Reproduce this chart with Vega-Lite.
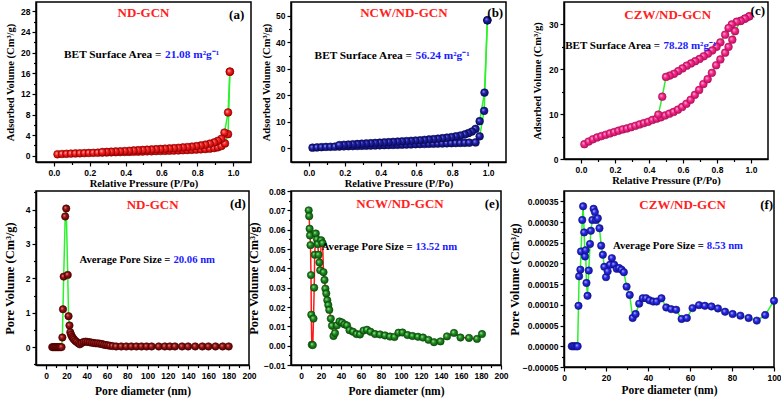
{
"$schema": "https://vega.github.io/schema/vega-lite/v6.json",
"padding": {"left": 2, "top": 1, "right": 0, "bottom": 0},
"background": "white",
"config": {
  "view": {"stroke": "black", "strokeWidth": 1.5},
  "axis": {"labelFont": "Liberation Sans", "labelFontWeight": "bold", "labelFontSize": 8.5, "labelColor": "black",
           "titleFont": "Liberation Serif", "titleFontWeight": "bold", "titleColor": "black",
           "domainColor": "black", "domainWidth": 1.5, "tickColor": "black", "tickWidth": 1.2, "tickSize": 4,
           "grid": false, "labelPadding": 2, "labelOverlap": false, "labelBound": false, "labelFlush": false},
  "text": {"font": "Liberation Serif", "fontWeight": "bold"}
},
"datasets": {
  "a": [
    {"p":0.02,"v":0.30,"b":"ads"},{"p":0.045,"v":0.35,"b":"ads"},{"p":0.07,"v":0.39,"b":"ads"},{"p":0.095,"v":0.43,"b":"ads"},{"p":0.12,"v":0.46,"b":"ads"},{"p":0.145,"v":0.49,"b":"ads"},{"p":0.17,"v":0.52,"b":"ads"},{"p":0.195,"v":0.55,"b":"ads"},{"p":0.22,"v":0.58,"b":"ads"},{"p":0.245,"v":0.60,"b":"ads"},{"p":0.27,"v":0.62,"b":"ads"},{"p":0.295,"v":0.65,"b":"ads"},{"p":0.32,"v":0.67,"b":"ads"},{"p":0.345,"v":0.69,"b":"ads"},{"p":0.37,"v":0.72,"b":"ads"},{"p":0.395,"v":0.74,"b":"ads"},{"p":0.42,"v":0.76,"b":"ads"},{"p":0.445,"v":0.79,"b":"ads"},{"p":0.47,"v":0.81,"b":"ads"},{"p":0.495,"v":0.83,"b":"ads"},{"p":0.52,"v":0.86,"b":"ads"},{"p":0.545,"v":0.88,"b":"ads"},{"p":0.57,"v":0.91,"b":"ads"},{"p":0.595,"v":0.94,"b":"ads"},{"p":0.62,"v":0.96,"b":"ads"},{"p":0.645,"v":0.99,"b":"ads"},{"p":0.67,"v":1.02,"b":"ads"},{"p":0.695,"v":1.05,"b":"ads"},{"p":0.72,"v":1.08,"b":"ads"},{"p":0.745,"v":1.12,"b":"ads"},{"p":0.77,"v":1.16,"b":"ads"},{"p":0.795,"v":1.2,"b":"ads"},{"p":0.82,"v":1.25,"b":"ads"},{"p":0.845,"v":1.31,"b":"ads"},{"p":0.87,"v":1.39,"b":"ads"},{"p":0.895,"v":1.5,"b":"ads"},{"p":0.915,"v":1.65,"b":"ads"},{"p":0.935,"v":1.9,"b":"ads"},{"p":0.955,"v":2.4,"b":"ads"},{"p":0.972,"v":4.2,"b":"ads"},{"p":0.982,"v":16.3,"b":"ads"},
    {"p":0.982,"v":16.3,"b":"des"},{"p":0.972,"v":8.4,"b":"des"},{"p":0.952,"v":4.5,"b":"des"},{"p":0.935,"v":3.3,"b":"des"},{"p":0.915,"v":2.9,"b":"des"},{"p":0.895,"v":2.6,"b":"des"},{"p":0.87,"v":2.35,"b":"des"},{"p":0.845,"v":2.15,"b":"des"},{"p":0.82,"v":2.0,"b":"des"},{"p":0.795,"v":1.88,"b":"des"},{"p":0.77,"v":1.78,"b":"des"},{"p":0.745,"v":1.7,"b":"des"},{"p":0.72,"v":1.62,"b":"des"},{"p":0.695,"v":1.55,"b":"des"},{"p":0.67,"v":1.49,"b":"des"},{"p":0.645,"v":1.43,"b":"des"},{"p":0.62,"v":1.38,"b":"des"},{"p":0.595,"v":1.33,"b":"des"},{"p":0.57,"v":1.28,"b":"des"},{"p":0.545,"v":1.23,"b":"des"},{"p":0.52,"v":1.18,"b":"des"},{"p":0.495,"v":1.13,"b":"des"},{"p":0.47,"v":1.08,"b":"des"},{"p":0.445,"v":1.03,"b":"des"},{"p":0.42,"v":0.98,"b":"des"},{"p":0.395,"v":0.93,"b":"des"},{"p":0.37,"v":0.88,"b":"des"},{"p":0.345,"v":0.84,"b":"des"},{"p":0.32,"v":0.8,"b":"des"},{"p":0.295,"v":0.76,"b":"des"},{"p":0.27,"v":0.73,"b":"des"}
  ],
  "b": [
    {"p":0.02,"v":0.2,"b":"ads"},{"p":0.045,"v":0.3,"b":"ads"},{"p":0.07,"v":0.4,"b":"ads"},{"p":0.095,"v":0.5,"b":"ads"},{"p":0.12,"v":0.55,"b":"ads"},{"p":0.145,"v":0.6,"b":"ads"},{"p":0.17,"v":0.65,"b":"ads"},{"p":0.195,"v":0.7,"b":"ads"},{"p":0.22,"v":0.75,"b":"ads"},{"p":0.245,"v":0.8,"b":"ads"},{"p":0.27,"v":0.85,"b":"ads"},{"p":0.295,"v":0.9,"b":"ads"},{"p":0.32,"v":0.95,"b":"ads"},{"p":0.345,"v":1.0,"b":"ads"},{"p":0.37,"v":1.05,"b":"ads"},{"p":0.395,"v":1.1,"b":"ads"},{"p":0.42,"v":1.15,"b":"ads"},{"p":0.445,"v":1.2,"b":"ads"},{"p":0.47,"v":1.25,"b":"ads"},{"p":0.495,"v":1.3,"b":"ads"},{"p":0.52,"v":1.35,"b":"ads"},{"p":0.545,"v":1.4,"b":"ads"},{"p":0.57,"v":1.45,"b":"ads"},{"p":0.595,"v":1.5,"b":"ads"},{"p":0.62,"v":1.55,"b":"ads"},{"p":0.645,"v":1.6,"b":"ads"},{"p":0.67,"v":1.65,"b":"ads"},{"p":0.695,"v":1.7,"b":"ads"},{"p":0.72,"v":1.75,"b":"ads"},{"p":0.745,"v":1.8,"b":"ads"},{"p":0.77,"v":1.85,"b":"ads"},{"p":0.795,"v":1.9,"b":"ads"},{"p":0.82,"v":1.95,"b":"ads"},{"p":0.845,"v":2.0,"b":"ads"},{"p":0.87,"v":2.05,"b":"ads"},{"p":0.895,"v":2.1,"b":"ads"},{"p":0.93,"v":2.2,"b":"ads"},{"p":0.953,"v":4.5,"b":"ads"},{"p":0.978,"v":14.1,"b":"ads"},{"p":0.996,"v":48.3,"b":"ads"},
    {"p":0.996,"v":48.3,"b":"des"},{"p":0.98,"v":21,"b":"des"},{"p":0.953,"v":10.2,"b":"des"},{"p":0.93,"v":7.3,"b":"des"},{"p":0.91,"v":6.3,"b":"des"},{"p":0.89,"v":5.7,"b":"des"},{"p":0.87,"v":5.2,"b":"des"},{"p":0.845,"v":4.8,"b":"des"},{"p":0.82,"v":4.5,"b":"des"},{"p":0.795,"v":4.2,"b":"des"},{"p":0.77,"v":4.0,"b":"des"},{"p":0.745,"v":3.8,"b":"des"},{"p":0.72,"v":3.6,"b":"des"},{"p":0.695,"v":3.45,"b":"des"},{"p":0.67,"v":3.3,"b":"des"},{"p":0.645,"v":3.15,"b":"des"},{"p":0.62,"v":3.0,"b":"des"},{"p":0.595,"v":2.9,"b":"des"},{"p":0.57,"v":2.8,"b":"des"},{"p":0.545,"v":2.7,"b":"des"},{"p":0.52,"v":2.6,"b":"des"},{"p":0.495,"v":2.5,"b":"des"},{"p":0.47,"v":2.4,"b":"des"},{"p":0.445,"v":2.3,"b":"des"},{"p":0.42,"v":2.2,"b":"des"},{"p":0.395,"v":2.1,"b":"des"},{"p":0.37,"v":2.0,"b":"des"},{"p":0.345,"v":1.9,"b":"des"},{"p":0.32,"v":1.8,"b":"des"},{"p":0.295,"v":1.7,"b":"des"},{"p":0.27,"v":1.6,"b":"des"},{"p":0.245,"v":1.5,"b":"des"},{"p":0.22,"v":1.4,"b":"des"},{"p":0.195,"v":1.3,"b":"des"},{"p":0.17,"v":1.2,"b":"des"}
  ],
  "c": [
    {"p":0.02,"v":3.3,"b":"ads"},{"p":0.045,"v":3.9,"b":"ads"},{"p":0.07,"v":4.4,"b":"ads"},{"p":0.095,"v":4.8,"b":"ads"},{"p":0.12,"v":5.1,"b":"ads"},{"p":0.145,"v":5.4,"b":"ads"},{"p":0.17,"v":5.7,"b":"ads"},{"p":0.195,"v":6.0,"b":"ads"},{"p":0.22,"v":6.3,"b":"ads"},{"p":0.245,"v":6.6,"b":"ads"},{"p":0.27,"v":6.8,"b":"ads"},{"p":0.295,"v":7.1,"b":"ads"},{"p":0.32,"v":7.4,"b":"ads"},{"p":0.345,"v":7.7,"b":"ads"},{"p":0.37,"v":8.0,"b":"ads"},{"p":0.395,"v":8.3,"b":"ads"},{"p":0.42,"v":8.7,"b":"ads"},{"p":0.445,"v":9.0,"b":"ads"},{"p":0.47,"v":9.3,"b":"ads"},{"p":0.495,"v":9.7,"b":"ads"},{"p":0.52,"v":10.1,"b":"ads"},{"p":0.545,"v":10.5,"b":"ads"},{"p":0.57,"v":11.0,"b":"ads"},{"p":0.595,"v":11.6,"b":"ads"},{"p":0.62,"v":12.3,"b":"ads"},{"p":0.645,"v":13.2,"b":"ads"},{"p":0.67,"v":14.3,"b":"ads"},{"p":0.695,"v":15.4,"b":"ads"},{"p":0.72,"v":16.7,"b":"ads"},{"p":0.745,"v":17.8,"b":"ads"},{"p":0.77,"v":19.2,"b":"ads"},{"p":0.795,"v":20.9,"b":"ads"},{"p":0.82,"v":22.2,"b":"ads"},{"p":0.848,"v":23.7,"b":"ads"},{"p":0.868,"v":25.0,"b":"ads"},{"p":0.89,"v":26.6,"b":"ads"},{"p":0.906,"v":28.5,"b":"ads"},{"p":0.94,"v":30.8,"b":"ads"},{"p":0.965,"v":31.3,"b":"ads"},{"p":0.99,"v":31.8,"b":"ads"},
    {"p":0.99,"v":31.8,"b":"des"},{"p":0.965,"v":31.3,"b":"des"},{"p":0.94,"v":30.8,"b":"des"},{"p":0.916,"v":30.6,"b":"des"},{"p":0.887,"v":30.0,"b":"des"},{"p":0.868,"v":29.2,"b":"des"},{"p":0.848,"v":27.7,"b":"des"},{"p":0.82,"v":26.0,"b":"des"},{"p":0.797,"v":25.0,"b":"des"},{"p":0.772,"v":24.2,"b":"des"},{"p":0.747,"v":23.5,"b":"des"},{"p":0.722,"v":22.9,"b":"des"},{"p":0.697,"v":22.3,"b":"des"},{"p":0.672,"v":21.8,"b":"des"},{"p":0.647,"v":21.3,"b":"des"},{"p":0.622,"v":20.8,"b":"des"},{"p":0.597,"v":20.2,"b":"des"},{"p":0.572,"v":19.6,"b":"des"},{"p":0.547,"v":19.0,"b":"des"},{"p":0.522,"v":18.6,"b":"des"},{"p":0.5,"v":18.3,"b":"des"},{"p":0.478,"v":13.9,"b":"des"},{"p":0.455,"v":9.9,"b":"des"}
  ],
  "d": [
    {"d":6,"v":0},{"d":7,"v":0},{"d":8,"v":0},{"d":9,"v":0},{"d":10,"v":0},{"d":11,"v":0},{"d":12,"v":0},{"d":13,"v":0},{"d":14,"v":0},{"d":15.2,"v":0},{"d":16,"v":0.28},{"d":16.6,"v":1.1},{"d":17.3,"v":2.05},{"d":18.8,"v":3.8},{"d":19.8,"v":4.03},{"d":21.3,"v":2.1},{"d":22.1,"v":0.9},{"d":23,"v":0.63},{"d":23.8,"v":0.43},{"d":24.6,"v":0.36},{"d":25.5,"v":0.3},{"d":26.5,"v":0.26},{"d":27.5,"v":0.22},{"d":28.8,"v":0.18},{"d":30.2,"v":0.15},{"d":31.8,"v":0.11},{"d":33.2,"v":0.08},{"d":35,"v":0.12},{"d":37,"v":0.15},{"d":39,"v":0.16},{"d":41,"v":0.15},{"d":43,"v":0.14},{"d":45,"v":0.13},{"d":47,"v":0.12},{"d":49,"v":0.11},{"d":51,"v":0.11},{"d":53,"v":0.1},{"d":55,"v":0.09},{"d":57,"v":0.07},{"d":59,"v":0.06},{"d":61,"v":0.05},{"d":63,"v":0.04},{"d":65.5,"v":0.03},{"d":69,"v":0.02},{"d":74,"v":0.02},{"d":79,"v":0.02},{"d":84,"v":0.02},{"d":89,"v":0.02},{"d":94,"v":0.02},{"d":99,"v":0.02},{"d":104,"v":0.02},{"d":111,"v":0.02},{"d":117,"v":0.02},{"d":122,"v":0.02},{"d":127,"v":0.02},{"d":134,"v":0.02},{"d":140,"v":0.02},{"d":147,"v":0.02},{"d":154,"v":0.02},{"d":160,"v":0.02},{"d":167,"v":0.02},{"d":174,"v":0.02},{"d":180,"v":0.02}
  ],
  "e": [
    {"d":7.7,"v":0.070},{"d":8.2,"v":0.067},{"d":8.6,"v":0.0605},{"d":9.0,"v":0.057},{"d":9.5,"v":0.052},{"d":10.0,"v":0.0365},{"d":10.3,"v":0.016},{"d":10.8,"v":0.0005},{"d":11.8,"v":0.0003},{"d":12.5,"v":0.014},{"d":13.2,"v":0.030},{"d":13.7,"v":0.047},{"d":14.8,"v":0.058},{"d":16.0,"v":0.055},{"d":16.8,"v":0.0525},{"d":17.5,"v":0.047},{"d":18.4,"v":0.043},{"d":19.2,"v":0.039},{"d":20.2,"v":0.0545},{"d":21.6,"v":0.053},{"d":22.5,"v":0.038},{"d":23.5,"v":0.034},{"d":24.4,"v":0.0295},{"d":25.3,"v":0.027},{"d":26.3,"v":0.0235},{"d":27.3,"v":0.021},{"d":28.3,"v":0.0185},{"d":29.8,"v":0.014},{"d":31.0,"v":0.0103},{"d":32.5,"v":0.005},{"d":34.0,"v":0.0065},{"d":36.0,"v":0.0105},{"d":38.5,"v":0.0125},{"d":41.0,"v":0.012},{"d":43.5,"v":0.011},{"d":46.0,"v":0.0105},{"d":48.5,"v":0.008},{"d":52,"v":0.0072},{"d":55.5,"v":0.006},{"d":59,"v":0.0058},{"d":62.5,"v":0.0078},{"d":66,"v":0.0082},{"d":69.5,"v":0.0072},{"d":74,"v":0.006},{"d":79,"v":0.0058},{"d":84,"v":0.0053},{"d":89,"v":0.0047},{"d":93.5,"v":0.0045},{"d":97.5,"v":0.0067},{"d":101.5,"v":0.0068},{"d":106.5,"v":0.0055},{"d":111.5,"v":0.005},{"d":117,"v":0.0046},{"d":122,"v":0.0042},{"d":127.5,"v":0.003},{"d":133,"v":0.0018},{"d":139.5,"v":0.0022},{"d":146,"v":0.0048},{"d":153,"v":0.0066},{"d":159.5,"v":0.0042},{"d":168,"v":0.004},{"d":176,"v":0.0035},{"d":181,"v":0.006}
  ],
  "f": [
    {"d":3.7,"v":0},{"d":4.4,"v":0},{"d":5.2,"v":0},{"d":6.0,"v":0},{"d":6.5,"v":0},{"d":6.9,"v":0.0000978},{"d":7.2,"v":0.000169},{"d":7.8,"v":0.000185},{"d":8.1,"v":0.000229},{"d":8.7,"v":0.000305},{"d":9.1,"v":0.000338},{"d":9.6,"v":0.000275},{"d":10.0,"v":0.000217},{"d":10.3,"v":0.000232},{"d":10.7,"v":0.000153},{"d":11.2,"v":0.000122},{"d":11.8,"v":0.000183},{"d":12.4,"v":0.000247},{"d":12.8,"v":0.000279},{"d":13.5,"v":0.000305},{"d":14.1,"v":0.000332},{"d":14.7,"v":0.000324},{"d":15.3,"v":0.000305},{"d":16.1,"v":0.000309},{"d":16.9,"v":0.000285},{"d":17.7,"v":0.000243},{"d":18.5,"v":0.000221},{"d":19.2,"v":0.000192},{"d":20.0,"v":0.000167},{"d":20.8,"v":0.000181},{"d":21.9,"v":0.000197},{"d":22.8,"v":0.000213},{"d":23.9,"v":0.000197},{"d":25.1,"v":0.000187},{"d":26.2,"v":0.000189},{"d":27.4,"v":0.000185},{"d":28.5,"v":0.000179},{"d":29.8,"v":0.000144},{"d":31.3,"v":0.000124},{"d":32.7,"v":0.0000684},{"d":34.1,"v":0.0000779},{"d":35.8,"v":0.000103},{"d":37.5,"v":0.000116},{"d":39.1,"v":0.000116},{"d":40.7,"v":0.000111},{"d":42.5,"v":0.000108},{"d":44.1,"v":0.000108},{"d":46.4,"v":0.000116},{"d":48.7,"v":0.0000938},{"d":51.0,"v":0.0000898},{"d":53.4,"v":0.0000882},{"d":56.0,"v":0.000066},{"d":58.5,"v":0.0000684},{"d":61.2,"v":0.0000922},{"d":64.3,"v":0.0000994},{"d":67.1,"v":0.0000978},{"d":70.2,"v":0.0000962},{"d":73.3,"v":0.0000914},{"d":76.7,"v":0.0000835},{"d":80.3,"v":0.0000779},{"d":84.0,"v":0.000074},{"d":87.9,"v":0.0000684},{"d":91.8,"v":0.000062},{"d":95.8,"v":0.0000755},{"d":100,"v":0.00011}
  ]
},
"concat": [
  {
    "width": 215, "height": 160,
    "resolve": {"axis": {"x": "independent", "y": "independent"}},
    "layer": [
      {"data": {"name": "a"}, "mark": {"type": "line", "color": "#2bf22b", "strokeWidth": 1.5},
       "encoding": {
        "x": {"field": "p", "type": "quantitative", "scale": {"domain": [-0.1, 1.1], "nice": false, "zero": false},
              "axis": {"orient": "bottom", "title": "Relative Pressure (P/Po)", "values": [0, 0.2, 0.4, 0.6, 0.8, 1.0], "format": ".1f", "titleFontSize": 10.5, "titlePadding": 2}},
        "y": {"field": "v", "type": "quantitative", "scale": {"domain": [-1.2, 29.8], "nice": false, "zero": false},
              "axis": {"orient": "left", "title": "Adsorbed Volume (Cm³/g)", "values": [0, 4, 8, 12, 16, 20, 24, 28], "titleFontSize": 10.5, "titlePadding": 5}},
        "detail": {"field": "b"}}},
      {"data": {"name": "a"}, "mark": {"type": "point", "shape": "circle", "filled": true, "size": 60, "opacity": 1, "stroke": "#8a0000", "strokeWidth": 0.6,
        "fill": {"gradient": "radial", "x1": 0.35, "y1": 0.35, "r1": 0, "x2": 0.5, "y2": 0.5, "r2": 0.55, "stops": [{"offset": 0, "color": "#ffc8c8"}, {"offset": 0.4, "color": "#ff2424"}, {"offset": 1, "color": "#a00000"}]}},
       "encoding": {"x": {"field": "p", "type": "quantitative", "axis": {"orient": "bottom", "values": [0.1, 0.3, 0.5, 0.7, 0.9], "labels": false, "domain": false, "title": null, "tickSize": 2.5}},
                    "y": {"field": "v", "type": "quantitative", "axis": {"orient": "left", "values": [2, 6, 10, 14, 18, 22, 26], "labels": false, "domain": false, "title": null, "tickSize": 2.5}}}},
      {"data": {"values": [{"t": "ND-GCN"}]}, "mark": {"type": "text", "color": "#ff2020", "fontSize": 13}, "encoding": {"x": {"datum": 0.5, "axis": null}, "y": {"datum": 27.6, "axis": null}, "text": {"field": "t"}}},
      {"data": {"values": [{"t": "(a)"}]}, "mark": {"type": "text", "color": "black", "fontSize": 13}, "encoding": {"x": {"datum": 1.02, "axis": null}, "y": {"datum": 27.3, "axis": null}, "text": {"field": "t"}}},
      {"data": {"values": [{"t": "BET Surface Area ="}]}, "mark": {"type": "text", "color": "black", "fontSize": 11.3, "align": "right"}, "encoding": {"x": {"datum": 0.6, "axis": null}, "y": {"datum": 19.6, "axis": null}, "text": {"field": "t"}}},
      {"data": {"values": [{"t": "21.08 m²g⁻¹"}]}, "mark": {"type": "text", "color": "#1a1aff", "fontSize": 11.3, "align": "left"}, "encoding": {"x": {"datum": 0.62, "axis": null}, "y": {"datum": 19.6, "axis": null}, "text": {"field": "t"}}}
    ]
  },
  {"width": 34, "height": 10, "data": {"values": [{"s": 1}]}, "mark": {"type": "point", "opacity": 0}, "view": {"stroke": null}},
  {
    "width": 215, "height": 160,
    "resolve": {"axis": {"x": "independent", "y": "independent"}},
    "layer": [
      {"data": {"name": "b"}, "mark": {"type": "line", "color": "#2bf22b", "strokeWidth": 1.5},
       "encoding": {
        "x": {"field": "p", "type": "quantitative", "scale": {"domain": [-0.1, 1.1], "nice": false, "zero": false},
              "axis": {"orient": "bottom", "title": "Relative Pressure (P/Po)", "values": [0, 0.2, 0.4, 0.6, 0.8, 1.0], "format": ".1f", "titleFontSize": 10.5, "titlePadding": 2}},
        "y": {"field": "v", "type": "quantitative", "scale": {"domain": [-5.2, 55.2], "nice": false, "zero": false},
              "axis": {"orient": "left", "title": "Adsorbed Volume (Cm³/g)", "values": [0, 10, 20, 30, 40, 50], "titleFontSize": 10.5, "titlePadding": 4}},
        "detail": {"field": "b"}}},
      {"data": {"name": "b"}, "mark": {"type": "point", "shape": "circle", "filled": true, "size": 60, "opacity": 1, "stroke": "#0a0a50", "strokeWidth": 0.6,
        "fill": {"gradient": "radial", "x1": 0.35, "y1": 0.35, "r1": 0, "x2": 0.5, "y2": 0.5, "r2": 0.55, "stops": [{"offset": 0, "color": "#b0b0ff"}, {"offset": 0.4, "color": "#2020b0"}, {"offset": 1, "color": "#0a0a55"}]}},
       "encoding": {"x": {"field": "p", "type": "quantitative", "axis": {"orient": "bottom", "values": [0.1, 0.3, 0.5, 0.7, 0.9], "labels": false, "domain": false, "title": null, "tickSize": 2.5}},
                    "y": {"field": "v", "type": "quantitative", "axis": {"orient": "left", "values": [5, 15, 25, 35, 45], "labels": false, "domain": false, "title": null, "tickSize": 2.5}}}},
      {"data": {"values": [{"t": "NCW/ND-GCN"}]}, "mark": {"type": "text", "color": "#ff2020", "fontSize": 13}, "encoding": {"x": {"datum": 0.53, "axis": null}, "y": {"datum": 51, "axis": null}, "text": {"field": "t"}}},
      {"data": {"values": [{"t": "(b)"}]}, "mark": {"type": "text", "color": "black", "fontSize": 13}, "encoding": {"x": {"datum": 1.04, "axis": null}, "y": {"datum": 51, "axis": null}, "text": {"field": "t"}}},
      {"data": {"values": [{"t": "BET Surface Area ="}]}, "mark": {"type": "text", "color": "black", "fontSize": 11.3, "align": "right"}, "encoding": {"x": {"datum": 0.575, "axis": null}, "y": {"datum": 34.7, "axis": null}, "text": {"field": "t"}}},
      {"data": {"values": [{"t": "56.24 m²g⁻¹"}]}, "mark": {"type": "text", "color": "#1a1aff", "fontSize": 11.3, "align": "left"}, "encoding": {"x": {"datum": 0.595, "axis": null}, "y": {"datum": 34.7, "axis": null}, "text": {"field": "t"}}}
    ]
  },
  {"width": 58, "height": 10, "data": {"values": [{"s": 1}]}, "mark": {"type": "point", "opacity": 0}, "view": {"stroke": null}},
  {
    "width": 204, "height": 157,
    "resolve": {"axis": {"x": "independent", "y": "independent"}},
    "layer": [
      {"data": {"name": "c"}, "mark": {"type": "line", "color": "#2bf22b", "strokeWidth": 1.5},
       "encoding": {
        "x": {"field": "p", "type": "quantitative", "scale": {"domain": [-0.1, 1.1], "nice": false, "zero": false},
              "axis": {"orient": "bottom", "title": "Relative Pressure (P/Po)", "values": [0, 0.2, 0.4, 0.6, 0.8, 1.0], "format": ".1f", "titleFontSize": 10.5, "titlePadding": 2}},
        "y": {"field": "v", "type": "quantitative", "scale": {"domain": [0, 35], "nice": false, "zero": false},
              "axis": {"orient": "left", "title": "Adsorbed Volume (Cm³/g)", "values": [0, 10, 20, 30], "titleFontSize": 10.5, "titlePadding": 6}},
        "detail": {"field": "b"}}},
      {"data": {"name": "c"}, "mark": {"type": "point", "shape": "circle", "filled": true, "size": 60, "opacity": 1, "stroke": "#b0105a", "strokeWidth": 0.6,
        "fill": {"gradient": "radial", "x1": 0.35, "y1": 0.35, "r1": 0, "x2": 0.5, "y2": 0.5, "r2": 0.55, "stops": [{"offset": 0, "color": "#ffd0e8"}, {"offset": 0.4, "color": "#ff2a8f"}, {"offset": 1, "color": "#b0105a"}]}},
       "encoding": {"x": {"field": "p", "type": "quantitative", "axis": {"orient": "bottom", "values": [0.1, 0.3, 0.5, 0.7, 0.9], "labels": false, "domain": false, "title": null, "tickSize": 2.5}},
                    "y": {"field": "v", "type": "quantitative", "axis": {"orient": "left", "values": [5, 15, 25], "labels": false, "domain": false, "title": null, "tickSize": 2.5}}}},
      {"data": {"values": [{"t": "CZW/ND-GCN"}]}, "mark": {"type": "text", "color": "#ff2020", "fontSize": 13}, "encoding": {"x": {"datum": 0.51, "axis": null}, "y": {"datum": 32.2, "axis": null}, "text": {"field": "t"}}},
      {"data": {"values": [{"t": "(c)"}]}, "mark": {"type": "text", "color": "black", "fontSize": 13}, "encoding": {"x": {"datum": 1.04, "axis": null}, "y": {"datum": 32.9, "axis": null}, "text": {"field": "t"}}},
      {"data": {"values": [{"t": "BET Surface Area ="}]}, "mark": {"type": "text", "color": "black", "fontSize": 11, "align": "right"}, "encoding": {"x": {"datum": 0.465, "axis": null}, "y": {"datum": 25.1, "axis": null}, "text": {"field": "t"}}},
      {"data": {"values": [{"t": "78.28 m²g⁻¹"}]}, "mark": {"type": "text", "color": "#1a1aff", "fontSize": 11, "align": "left"}, "encoding": {"x": {"datum": 0.485, "axis": null}, "y": {"datum": 25.1, "axis": null}, "text": {"field": "t"}}}
    ]
  },
  {
    "width": 213, "height": 174,
    "resolve": {"axis": {"x": "independent", "y": "independent"}},
    "layer": [
      {"data": {"name": "d"}, "mark": {"type": "line", "color": "#2bf22b", "strokeWidth": 1.5},
       "encoding": {
        "x": {"field": "d", "type": "quantitative", "scale": {"domain": [-10, 200], "nice": false, "zero": false},
              "axis": {"orient": "bottom", "title": "Pore diameter (nm)", "values": [0, 20, 40, 60, 80, 100, 120, 140, 160, 180, 200], "titleFontSize": 11.5, "titlePadding": 6}},
        "y": {"field": "v", "type": "quantitative", "scale": {"domain": [-0.52, 4.54], "nice": false, "zero": false},
              "axis": {"orient": "left", "title": "Pore Volume (Cm³/g)", "values": [0, 1, 2, 3, 4], "titleFontSize": 12.5, "titlePadding": 9}}}},
      {"data": {"name": "d"}, "mark": {"type": "point", "shape": "circle", "filled": true, "size": 55, "opacity": 1, "stroke": "#4a0000", "strokeWidth": 0.6,
        "fill": {"gradient": "radial", "x1": 0.35, "y1": 0.35, "r1": 0, "x2": 0.5, "y2": 0.5, "r2": 0.55, "stops": [{"offset": 0, "color": "#f0a0a0"}, {"offset": 0.4, "color": "#9a1414"}, {"offset": 1, "color": "#4a0000"}]}},
       "encoding": {"x": {"field": "d", "type": "quantitative", "axis": {"orient": "bottom", "values": [10, 30, 50, 70, 90, 110, 130, 150, 170, 190], "labels": false, "domain": false, "title": null, "tickSize": 2.5}},
                    "y": {"field": "v", "type": "quantitative", "axis": {"orient": "left", "values": [-0.5, 0.5, 1.5, 2.5, 3.5, 4.5], "labels": false, "domain": false, "title": null, "tickSize": 2.5}}}},
      {"data": {"values": [{"t": "ND-GCN"}]}, "mark": {"type": "text", "color": "#ff2020", "fontSize": 13}, "encoding": {"x": {"datum": 105, "axis": null}, "y": {"datum": 4.13, "axis": null}, "text": {"field": "t"}}},
      {"data": {"values": [{"t": "(d)"}]}, "mark": {"type": "text", "color": "black", "fontSize": 13}, "encoding": {"x": {"datum": 189, "axis": null}, "y": {"datum": 4.16, "axis": null}, "text": {"field": "t"}}},
      {"data": {"values": [{"t": "Average Pore Size ="}]}, "mark": {"type": "text", "color": "black", "fontSize": 10.7, "align": "right"}, "encoding": {"x": {"datum": 122.5, "axis": null}, "y": {"datum": 2.53, "axis": null}, "text": {"field": "t"}}},
      {"data": {"values": [{"t": "20.06 nm"}]}, "mark": {"type": "text", "color": "#1a1aff", "fontSize": 10.7, "align": "left"}, "encoding": {"x": {"datum": 125.5, "axis": null}, "y": {"datum": 2.53, "axis": null}, "text": {"field": "t"}}}
    ]
  },
  {"width": 40, "height": 10, "data": {"values": [{"s": 1}]}, "mark": {"type": "point", "opacity": 0}, "view": {"stroke": null}},
  {
    "width": 210, "height": 174,
    "resolve": {"axis": {"x": "independent", "y": "independent"}},
    "layer": [
      {"data": {"name": "e"}, "mark": {"type": "line", "color": "#ff1a1a", "strokeWidth": 1.5},
       "encoding": {
        "x": {"field": "d", "type": "quantitative", "scale": {"domain": [-10, 200], "nice": false, "zero": false},
              "axis": {"orient": "bottom", "title": "Pore diameter (nm)", "values": [0, 20, 40, 60, 80, 100, 120, 140, 160, 180, 200], "titleFontSize": 11.5, "titlePadding": 6}},
        "y": {"field": "v", "type": "quantitative", "scale": {"domain": [-0.01, 0.08], "nice": false, "zero": false},
              "axis": {"orient": "left", "title": "Pore Volume (Cm³/g)", "values": [-0.01, 0, 0.01, 0.02, 0.03, 0.04, 0.05, 0.06, 0.07, 0.08], "format": ".2f", "titleFontSize": 12.5, "titlePadding": 3}}}},
      {"data": {"name": "e"}, "mark": {"type": "point", "shape": "circle", "filled": true, "size": 55, "opacity": 1, "stroke": "#0a4a0a", "strokeWidth": 0.6,
        "fill": {"gradient": "radial", "x1": 0.35, "y1": 0.35, "r1": 0, "x2": 0.5, "y2": 0.5, "r2": 0.55, "stops": [{"offset": 0, "color": "#b0f5b0"}, {"offset": 0.4, "color": "#229022"}, {"offset": 1, "color": "#0a4a0a"}]}},
       "encoding": {"x": {"field": "d", "type": "quantitative", "axis": {"orient": "bottom", "values": [10, 30, 50, 70, 90, 110, 130, 150, 170, 190], "labels": false, "domain": false, "title": null, "tickSize": 2.5}},
                    "y": {"field": "v", "type": "quantitative", "axis": {"orient": "left", "values": [-0.005, 0.005, 0.015, 0.025, 0.035, 0.045, 0.055, 0.065, 0.075], "labels": false, "domain": false, "title": null, "tickSize": 2.5}}}},
      {"data": {"values": [{"t": "NCW/ND-GCN"}]}, "mark": {"type": "text", "color": "#ff2020", "fontSize": 13}, "encoding": {"x": {"datum": 99, "axis": null}, "y": {"datum": 0.0731, "axis": null}, "text": {"field": "t"}}},
      {"data": {"values": [{"t": "(e)"}]}, "mark": {"type": "text", "color": "black", "fontSize": 13}, "encoding": {"x": {"datum": 191, "axis": null}, "y": {"datum": 0.0731, "axis": null}, "text": {"field": "t"}}},
      {"data": {"values": [{"t": "Average Pore Size ="}]}, "mark": {"type": "text", "color": "black", "fontSize": 10.7, "align": "right"}, "encoding": {"x": {"datum": 111.5, "axis": null}, "y": {"datum": 0.0508, "axis": null}, "text": {"field": "t"}}},
      {"data": {"values": [{"t": "13.52 nm"}]}, "mark": {"type": "text", "color": "#1a1aff", "fontSize": 10.7, "align": "left"}, "encoding": {"x": {"datum": 114.5, "axis": null}, "y": {"datum": 0.0508, "axis": null}, "text": {"field": "t"}}}
    ]
  },
  {"width": 56, "height": 10, "data": {"values": [{"s": 1}]}, "mark": {"type": "point", "opacity": 0}, "view": {"stroke": null}},
  {
    "width": 210, "height": 176,
    "resolve": {"axis": {"x": "independent", "y": "independent"}},
    "layer": [
      {"data": {"name": "f"}, "mark": {"type": "line", "color": "#2bf22b", "strokeWidth": 1.5},
       "encoding": {
        "x": {"field": "d", "type": "quantitative", "scale": {"domain": [0, 100], "nice": false, "zero": false},
              "axis": {"orient": "bottom", "title": "Pore diameter (nm)", "values": [0, 20, 40, 60, 80, 100], "titleFontSize": 11.5, "titlePadding": 3}},
        "y": {"field": "v", "type": "quantitative", "scale": {"domain": [-0.00005, 0.000375], "nice": false, "zero": false},
              "axis": {"orient": "left", "title": "Pore Volume (Cm³/g)", "values": [-0.00005, 0, 0.00005, 0.0001, 0.00015, 0.0002, 0.00025, 0.0003, 0.00035], "format": ".5f", "titleFontSize": 12.5, "titlePadding": 1}}}},
      {"data": {"name": "f"}, "mark": {"type": "point", "shape": "circle", "filled": true, "size": 55, "opacity": 1, "stroke": "#10108a", "strokeWidth": 0.6,
        "fill": {"gradient": "radial", "x1": 0.35, "y1": 0.35, "r1": 0, "x2": 0.5, "y2": 0.5, "r2": 0.55, "stops": [{"offset": 0, "color": "#d0d0ff"}, {"offset": 0.4, "color": "#2a2aee"}, {"offset": 1, "color": "#10108a"}]}},
       "encoding": {"x": {"field": "d", "type": "quantitative", "axis": {"orient": "bottom", "values": [10, 30, 50, 70, 90], "labels": false, "domain": false, "title": null, "tickSize": 2.5}},
                    "y": {"field": "v", "type": "quantitative", "axis": {"orient": "left", "values": [-0.000025, 0.000025, 0.000075, 0.000125, 0.000175, 0.000225, 0.000275, 0.000325], "labels": false, "domain": false, "title": null, "tickSize": 2.5}}}},
      {"data": {"values": [{"t": "CZW/ND-GCN"}]}, "mark": {"type": "text", "color": "#ff2020", "fontSize": 13}, "encoding": {"x": {"datum": 56.5, "axis": null}, "y": {"datum": 0.00034, "axis": null}, "text": {"field": "t"}}},
      {"data": {"values": [{"t": "(f)"}]}, "mark": {"type": "text", "color": "black", "fontSize": 13}, "encoding": {"x": {"datum": 96.5, "axis": null}, "y": {"datum": 0.00034, "axis": null}, "text": {"field": "t"}}},
      {"data": {"values": [{"t": "Average Pore Size ="}]}, "mark": {"type": "text", "color": "black", "fontSize": 10.7, "align": "right"}, "encoding": {"x": {"datum": 66.6, "axis": null}, "y": {"datum": 0.000241, "axis": null}, "text": {"field": "t"}}},
      {"data": {"values": [{"t": "8.53 nm"}]}, "mark": {"type": "text", "color": "#1a1aff", "fontSize": 10.7, "align": "left"}, "encoding": {"x": {"datum": 68.0, "axis": null}, "y": {"datum": 0.000241, "axis": null}, "text": {"field": "t"}}}
    ]
  }
],
"columns": 5,
"align": "none",
"bounds": "flush",
"spacing": {"row": 29, "column": 0}
}
